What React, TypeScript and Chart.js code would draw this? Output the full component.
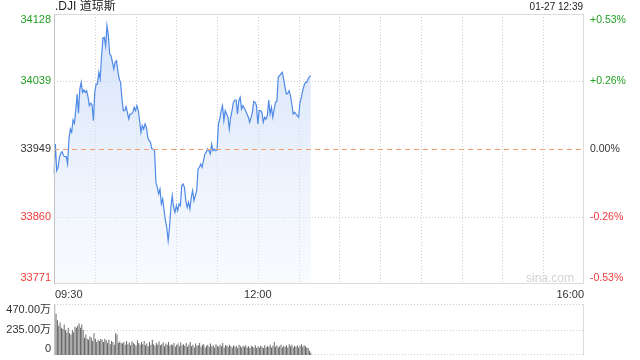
import React, { useEffect, useRef } from "react";
import { Chart, registerables } from "chart.js";

Chart.register(...registerables);

// ---- data ----
const titleText = ".DJI 道琼斯";
const stampText = "01-27 12:39";
const prevClose = 33949;
const yMin = 33771;
const yMax = 34128;
const priceTicks = [33771, 33860, 33949, 34039, 34128];
const pctLabels = ["-0.53%", "-0.26%", "0.00%", "+0.26%", "+0.53%"];
const xTickLabels = ["09:30", "12:00", "16:00"];
const volTicks = [0, 235, 470];
const volTickLabels = ["0", "235.00万", "470.00万"];

const priceValues = [
  33917.3, 33956.1, 33920.9, 33925.3, 33938.5, 33943.8, 33946.0, 33940.7, 33939.4, 33939.4,
  33929.7, 33962.7, 33975.9, 33971.5, 33987.8, 33983.4, 34000.2, 34022.2, 33996.7, 34028.8,
  34037.6, 34024.4, 34027.5, 34024.4, 34026.6, 34018.7, 34006.8, 34009.9, 34008.1, 33987.0,
  34024.4, 34035.4, 34035.4, 34050.9, 34042.1, 34072.9, 34096.3, 34097.1, 34086.1, 34112.6,
  34099.4, 34075.1, 34072.9, 34064.1, 34055.3, 34064.1, 34066.3, 34052.2,
  34042.1, 34037.6, 34015.6, 34000.2, 34000.2, 34005.5, 33998.0, 33989.2, 33995.8, 33995.8,
  33998.0, 34004.6, 34000.2, 34006.8, 34000.2, 33987.0, 33971.5, 33980.4, 33975.9, 33982.6,
  33978.1, 33964.9, 33960.5, 33958.3, 33949.5, 33949.5, 33947.3, 33905.4, 33898.8, 33890.0,
  33896.6, 33876.8, 33883.4, 33868.0, 33854.7, 33845.9, 33828.3, 33845.9, 33872.4, 33887.8,
  33872.4, 33865.8, 33874.6, 33868.0, 33876.8, 33874.6, 33901.0, 33903.2,
  33898.8, 33881.2, 33872.4, 33879.0, 33870.2, 33885.6, 33894.4, 33881.2, 33887.8, 33894.4,
  33923.1, 33925.3, 33929.7, 33925.3, 33934.1, 33942.9, 33945.1, 33949.5, 33947.3, 33942.9,
  33956.1, 33947.3, 33949.5, 33947.3, 33948.2, 33982.6, 33989.2, 34000.2, 34006.8, 33987.0,
  34000.2, 33995.8, 33991.4, 33975.9, 33991.4, 34000.2, 34011.2, 34014.3, 34014.3, 33995.8,
  34013.4, 34017.8, 34002.4, 34006.8, 34003.7, 34000.2, 33995.8, 33991.4, 33984.8,
  33991.4, 33998.0, 34012.5, 34011.2, 34006.8, 33982.6, 34000.2, 34000.2, 33998.0, 33984.8,
  33991.4, 33989.2, 33993.6, 34014.3, 33995.8, 34004.6, 33991.4, 34002.4, 34011.2, 34012.5,
  34044.3, 34046.5, 34048.7, 34050.9, 34042.1, 34031.0, 34022.2, 34023.1, 34026.6, 34020.0,
  34009.0, 33995.8, 33998.0, 33995.8, 33993.6, 33991.4, 34011.2, 34017.8, 34026.6, 34033.2,
  34037.6, 34037.6, 34042.1, 34045.1, 34046.5,
];

const volumeValues = [
  470, 380, 320, 270, 300, 250, 240, 280, 230, 210,
  250, 200, 190, 230, 210, 260, 250, 270, 290, 250,
  280, 230, 160, 190, 150, 140, 170, 160, 130, 200,
  150, 120, 140, 130, 150, 140, 120, 150, 135, 110,
  140, 100, 130, 120, 95, 200, 190, 110, 125, 110,
  105, 120, 95, 130, 100, 115, 90, 125, 110, 100,
  85, 135, 110, 95, 120, 100, 130, 90, 105, 80,
  120, 95, 140, 100, 85, 110, 95, 125, 90, 100,
  115, 80, 105, 95, 120, 85, 100, 90, 110, 75,
  95, 105, 80, 115, 90, 100, 85, 110, 75, 95,
  120, 80, 95, 70, 105, 85, 90, 110, 75, 95,
  100, 70, 85, 95, 75, 105, 80, 90, 70, 100,
  85, 75, 95, 80, 110, 70, 90, 85, 75, 95,
  80, 70, 90, 75, 85, 65, 95, 80, 70, 85,
  75, 90, 70, 80, 65, 85, 75, 70, 90, 65,
  80, 70, 85, 75, 65, 90, 70, 80, 75, 95,
  70, 85, 120, 75, 90, 70, 80, 95, 70, 85,
  75, 90, 70, 100, 80, 95, 70, 85, 75, 90,
  70, 85, 100, 75, 90, 80, 70, 65, 40, 20,
];

// minute categories 09:30 .. 16:00
const times: string[] = [];
for (let m = 0; m <= 390; m++) {
  const t = 570 + m;
  times.push(`${String(Math.floor(t / 60)).padStart(2, "0")}:${String(t % 60).padStart(2, "0")}`);
}

const FONT = '"Liberation Sans", Arial, "Noto Sans CJK SC", sans-serif';
const GREEN = "#1f9e1f";
const RED = "#f03a3a";
const DARK = "#333333";
const GRID = "#cccccc";

function tickColor(i: number) {
  if (i === 2) return DARK;
  return i > 2 ? GREEN : RED;
}

const mainDecor = {
  id: "mainDecor",
  beforeDatasetsDraw(chart: any) {
    const { ctx, chartArea: a, scales } = chart;
    const y = scales.y;
    const x = scales.x;
    ctx.save();
    ctx.lineWidth = 1;
    ctx.strokeStyle = GRID;
    ctx.setLineDash([1, 2]);
    [priceTicks[1], priceTicks[3]].forEach((v) => {
      const py = Math.round(y.getPixelForValue(v)) + 0.5;
      ctx.beginPath();
      ctx.moveTo(a.left, py);
      ctx.lineTo(a.right, py);
      ctx.stroke();
    });
    times.forEach((t, i) => {
      if (i === 0 || i === times.length - 1) return;
      if (t.endsWith(":00") || t.endsWith(":30")) {
        const px = Math.round(x.getPixelForValue(i)) + 0.5;
        ctx.beginPath();
        ctx.moveTo(px, a.top);
        ctx.lineTo(px, a.bottom);
        ctx.stroke();
      }
    });
    ctx.restore();
  },
  afterDatasetsDraw(chart: any) {
    const { ctx, chartArea: a, scales } = chart;
    const y = scales.y;
    ctx.save();
    ctx.lineWidth = 1;
    ctx.strokeStyle = "#f2a06e";
    ctx.setLineDash([5, 4]);
    const pc = Math.round(y.getPixelForValue(prevClose)) + 0.5;
    ctx.beginPath();
    ctx.moveTo(a.left, pc);
    ctx.lineTo(a.right, pc);
    ctx.stroke();
    ctx.setLineDash([]);
    ctx.strokeStyle = "#dcdcdc";
    ctx.beginPath();
    ctx.moveTo(a.left, a.top + 0.5);
    ctx.lineTo(a.right, a.top + 0.5);
    ctx.moveTo(a.left, a.bottom - 0.5);
    ctx.lineTo(a.right, a.bottom - 0.5);
    ctx.moveTo(a.right - 0.5, a.top);
    ctx.lineTo(a.right - 0.5, a.bottom);
    ctx.stroke();
    ctx.strokeStyle = "#c4c4c4";
    ctx.beginPath();
    ctx.moveTo(a.left + 0.5, a.top);
    ctx.lineTo(a.left + 0.5, a.bottom);
    ctx.stroke();
    ctx.restore();
  },
  afterDraw(chart: any) {
    const { ctx, chartArea: a, scales } = chart;
    const y = scales.y;
    const x = scales.x;
    ctx.save();
    ctx.textBaseline = "middle";
    priceTicks.forEach((v, i) => {
      let py = y.getPixelForValue(v);
      py = Math.max(a.top + 6, Math.min(a.bottom - 6, py));
      ctx.fillStyle = tickColor(i);
      ctx.font = `11px ${FONT}`;
      ctx.textAlign = "right";
      ctx.fillText(String(v), a.left - 3, py);
      ctx.font = `10.5px ${FONT}`;
      ctx.textAlign = "left";
      ctx.fillText(pctLabels[i], a.right + 6, py);
    });
    ctx.fillStyle = DARK;
    ctx.font = `11px ${FONT}`;
    const ly = a.bottom + 11;
    xTickLabels.forEach((lab, i) => {
      const idx = times.indexOf(lab);
      const px = x.getPixelForValue(idx);
      ctx.textAlign = i === 0 ? "left" : i === xTickLabels.length - 1 ? "right" : "center";
      ctx.fillText(lab, i === 0 ? px + 1 : px, ly);
    });
    ctx.font = `12px ${FONT}`;
    ctx.textAlign = "left";
    ctx.fillStyle = "#222";
    ctx.fillText(titleText, a.left + 1, 7);
    ctx.font = `10px ${FONT}`;
    ctx.textAlign = "right";
    ctx.fillText(stampText, a.right - 1, 7);
    ctx.font = `12px ${FONT}`;
    ctx.fillStyle = "#d2d2d2";
    ctx.fillText("sina.com", a.right - 10, a.bottom - 5);
    ctx.restore();
  },
};

const volDecor = {
  id: "volDecor",
  beforeDatasetsDraw(chart: any) {
    const { ctx, chartArea: a, scales } = chart;
    const y = scales.y;
    ctx.save();
    ctx.lineWidth = 1;
    ctx.strokeStyle = GRID;
    ctx.setLineDash([1, 2]);
    volTicks.forEach((v) => {
      let py = Math.round(y.getPixelForValue(v)) + 0.5;
      if (py > a.bottom) py = a.bottom - 0.5;
      ctx.beginPath();
      ctx.moveTo(a.left, py);
      ctx.lineTo(a.right, py);
      ctx.stroke();
    });
    ctx.restore();
  },
  afterDraw(chart: any) {
    const { ctx, chartArea: a, scales } = chart;
    const y = scales.y;
    ctx.save();
    ctx.lineWidth = 1;
    ctx.setLineDash([]);
    ctx.strokeStyle = "#c4c4c4";
    ctx.beginPath();
    ctx.moveTo(a.left + 0.5, a.top);
    ctx.lineTo(a.left + 0.5, a.bottom);
    ctx.stroke();
    ctx.strokeStyle = "#dcdcdc";
    ctx.beginPath();
    ctx.moveTo(a.right - 0.5, a.top);
    ctx.lineTo(a.right - 0.5, a.bottom);
    ctx.stroke();
    ctx.textBaseline = "middle";
    ctx.textAlign = "right";
    ctx.fillStyle = DARK;
    ctx.font = `11px ${FONT}`;
    volTicks.forEach((v, i) => {
      let py = y.getPixelForValue(v);
      py = Math.max(a.top + 6, Math.min(a.bottom - 6, py));
      ctx.fillText(volTickLabels[i], a.left - 3, py);
    });
    ctx.restore();
  },
};

export default function App() {
  const mainRef = useRef<HTMLCanvasElement | null>(null);
  const volRef = useRef<HTMLCanvasElement | null>(null);

  useEffect(() => {
    if (!mainRef.current || !volRef.current) return;
    const main = new Chart(mainRef.current, {
      type: "line",
      data: {
        labels: times,
        datasets: [
          {
            data: priceValues,
            borderColor: "#4f8ae6",
            borderWidth: 1.2,
            pointRadius: 0,
            tension: 0,
            fill: "start",
            backgroundColor: (c: any) => {
              const chart = c.chart;
              const a = chart.chartArea;
              if (!a) return "rgba(200,218,248,0.5)";
              const g = chart.ctx.createLinearGradient(0, a.top, 0, a.bottom);
              g.addColorStop(0, "rgba(196,215,248,0.75)");
              g.addColorStop(1, "rgba(236,242,253,0.35)");
              return g;
            },
          },
        ],
      },
      options: {
        responsive: false,
        animation: false,
        events: [],
        layout: { padding: { left: 54, right: 56, top: 14, bottom: 16 } },
        plugins: { legend: { display: false }, tooltip: { enabled: false } },
        scales: {
          x: { type: "category", display: false, offset: false },
          y: { display: false, min: yMin, max: yMax },
        },
      },
      plugins: [mainDecor],
    } as any);

    const vol = new Chart(volRef.current, {
      type: "bar",
      data: {
        labels: times,
        datasets: [
          {
            data: volumeValues,
            backgroundColor: "#555555",
            barPercentage: 0.65,
            categoryPercentage: 1,
          },
        ],
      },
      options: {
        responsive: false,
        animation: false,
        events: [],
        layout: { padding: { left: 54, right: 56, top: 4, bottom: 5 } },
        plugins: { legend: { display: false }, tooltip: { enabled: false } },
        scales: {
          x: { type: "category", display: false },
          y: { display: false, min: 0, max: 470 },
        },
      },
      plugins: [volDecor],
    } as any);

    return () => {
      main.destroy();
      vol.destroy();
    };
  }, []);

  return (
    <div style={{ position: "fixed", left: 0, top: 0, width: 640, height: 360, background: "#fff" }}>
      <canvas ref={mainRef} width={640} height={300} style={{ position: "absolute", left: 0, top: 0, width: 640, height: 300 }} />
      <canvas ref={volRef} width={640} height={60} style={{ position: "absolute", left: 0, top: 300, width: 640, height: 60 }} />
    </div>
  );
}
